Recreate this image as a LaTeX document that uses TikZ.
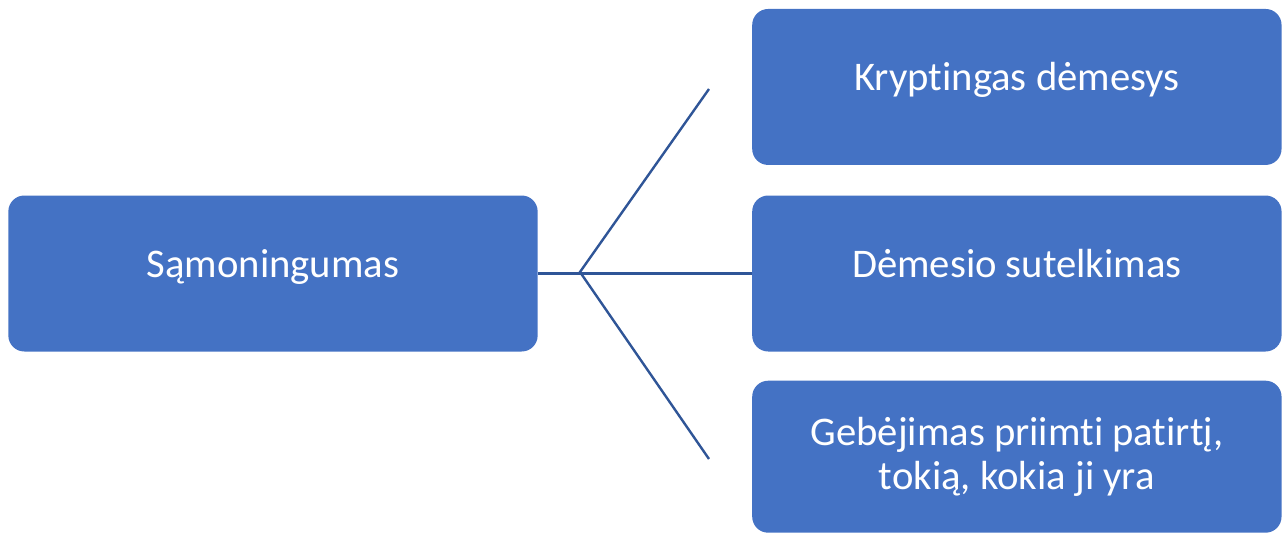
\documentclass[tikz,border=0pt]{standalone}
\usepackage{fontspec}
\setmainfont[Ligatures=NoCommon]{Carlito}
\usetikzlibrary{positioning}
\definecolor{bx}{RGB}{68,114,196}
\definecolor{ln}{RGB}{47,85,151}

\begin{document}
\begin{tikzpicture} [
    x=0.75pt, y=-0.75pt,
    box/.style={
        fill=bx,
        rounded corners=12pt,
        text=white,
        minimum width=397pt, minimum height=117pt,
        align=center, inner sep=0pt,
        text height=15pt, text depth=9pt,
        font=\fontsize{30.5}{33}\selectfont
    },
    f/.style={draw=ln,line width=1.8pt}
]

\useasboundingbox (0,0) rectangle (1288,535);

\node [box] (main) at (273,273.5) {Sąmoningumas};

\node [box, right=160.5pt of main] (b2) {Dėmesio sutelkimas};
\node [box, above=22.5pt of b2] (b1) {Kryptingas dėmesys};
\node [box, below=21.5pt of b2, minimum height=114pt,
       text height=, text depth=] (b3)
    {Gebėjimas priimti patirtį,\\ tokią, kokia ji yra};

\coordinate (fork) at (580,272);
\coordinate (e1) at (709,89);
\coordinate (e3) at (709,459);

\draw [f] (main.east) -- (b2.west);
\draw [f] (e1) -- (fork) -- (e3);

\end{tikzpicture}
\end{document}
